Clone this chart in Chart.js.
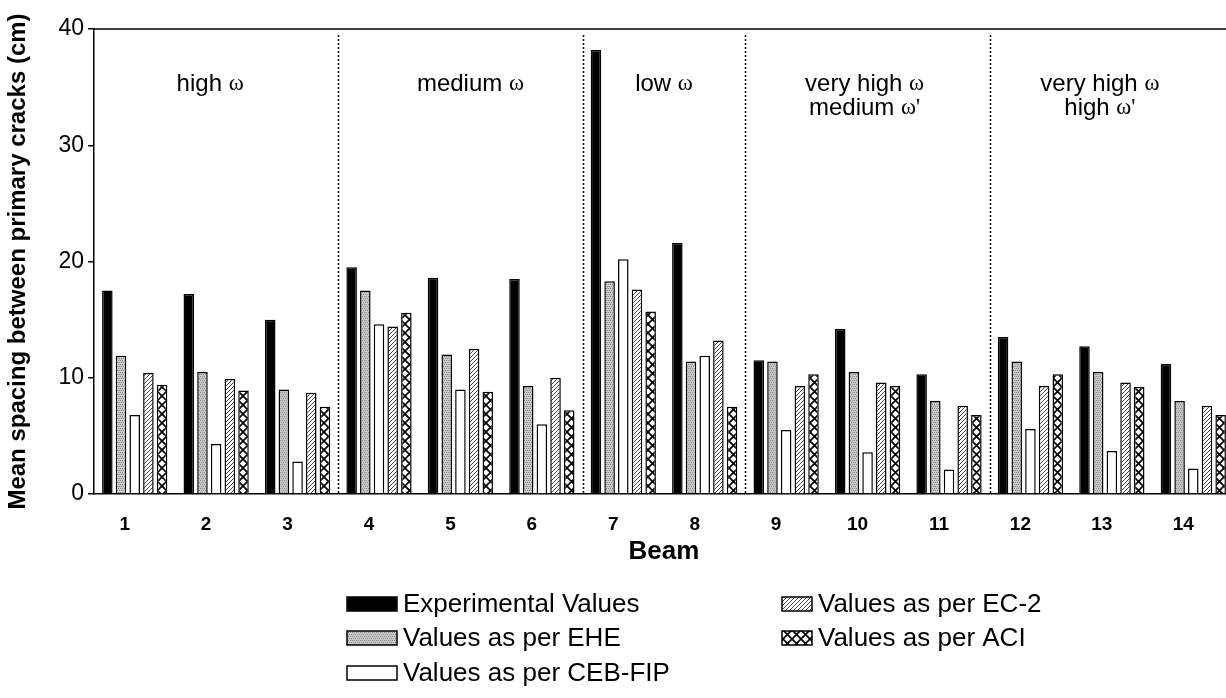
<!DOCTYPE html>
<html>
<head>
<meta charset="utf-8">
<script src="https://cdn.jsdelivr.net/npm/chart.js"></script>
<style>
  html, body { margin: 0; padding: 0; background: #fff; overflow: hidden; }
  #wrap { position: relative; width: 1234px; height: 698px; }
</style>
</head>
<body>
<div id="wrap"><canvas id="chart" width="1234" height="698"></canvas></div>
<script>
// data (cm)
var beams = ['1', '2', '3', '4', '5', '6', '7', '8', '9', '10', '11', '12', '13', '14'];
var experimental = [17.5, 17.2, 15.0, 19.5, 18.6, 18.5, 38.2, 21.6, 11.5, 14.2, 10.3, 13.5, 12.7, 11.2];
var ehe = [11.9, 10.5, 9.0, 17.5, 12.0, 9.3, 18.3, 11.4, 11.4, 10.5, 8.0, 11.4, 10.5, 8.0];
var cebFip = [6.8, 4.3, 2.8, 14.6, 9.0, 6.0, 20.2, 11.9, 5.5, 3.6, 2.1, 5.6, 3.7, 2.2];
var ec2 = [10.4, 9.9, 8.7, 14.4, 12.5, 10.0, 17.6, 13.2, 9.3, 9.6, 7.6, 9.3, 9.6, 7.6];
var aci = [9.4, 8.9, 7.5, 15.6, 8.8, 7.2, 15.7, 7.5, 10.3, 9.3, 6.8, 10.3, 9.2, 6.8];
var yTicks = [0, 10, 20, 30, 40];

// beam groups separated by the dotted lines
var groupStart = [0, 3, 6, 8, 11];
var groupEnd = [3, 6, 8, 11, 14];
var groupText = [
  ['high ω'],
  ['medium ω'],
  ['low ω'],
  ['very high ω', "medium ω'"],
  ['very high ω', "high ω'"]
];
var groupShift = [-6, 10, 0, -3, -12];

var SANS = "'Liberation Sans', Arial, sans-serif";
var SERIF = "'Liberation Serif', 'Times New Roman', serif";

function makePattern(kind) {
  var c = document.createElement('canvas');
  var g = c.getContext('2d');
  if (kind == 'gray') {
    c.width = 4; c.height = 4;
    g.fillStyle = '#c8c8c8';
    g.fillRect(0, 0, 4, 4);
    g.fillStyle = '#8a8a8a';
    g.fillRect(0, 0, 1, 1); g.fillRect(2, 0, 1, 1);
    g.fillRect(1, 2, 1, 1); g.fillRect(3, 2, 1, 1);
  } else if (kind == 'hatch') {
    c.width = 4; c.height = 4;
    g.fillStyle = '#fff';
    g.fillRect(0, 0, 4, 4);
    g.strokeStyle = '#444';
    g.lineWidth = 1;
    g.beginPath();
    g.moveTo(-1, 5); g.lineTo(5, -1);
    g.moveTo(-1, 1); g.lineTo(1, -1);
    g.moveTo(3, 5); g.lineTo(5, 3);
    g.stroke();
  } else {
    c.width = 9; c.height = 9;
    g.fillStyle = '#fff';
    g.fillRect(0, 0, 9, 9);
    g.strokeStyle = '#000';
    g.lineWidth = 1.7;
    g.beginPath();
    g.moveTo(0, 0); g.lineTo(9, 9);
    g.moveTo(9, 0); g.lineTo(0, 9);
    g.stroke();
  }
  return g.createPattern(c, 'repeat');
}

var grayPat = makePattern('gray');
var hatchPat = makePattern('hatch');
var crossPat = makePattern('cross');

// draws text where ω and ' come from a serif face
function drawMixed(ctx, str, cx, cy, size) {
  var parts = [];
  var total = 0;
  for (var i = 0; i < str.length; i++) {
    var ch = str[i];
    var serif = (ch == 'ω' || ch == "'");
    ctx.font = serif ? (size * 0.95) + 'px ' + SERIF : size + 'px ' + SANS;
    var w = ctx.measureText(ch).width;
    parts.push({ ch: ch, font: ctx.font, w: w });
    total += w;
  }
  var x = cx - total / 2;
  ctx.textAlign = 'left';
  ctx.textBaseline = 'middle';
  parts.forEach(function (p) {
    ctx.font = p.font;
    ctx.fillText(p.ch, x, cy);
    x += p.w;
  });
}

var decor = {
  id: 'decor',
  afterDraw: function (chart) {
    var ctx = chart.ctx;
    var area = chart.chartArea;
    var xs = chart.scales.x;
    ctx.save();

    // top frame line
    ctx.strokeStyle = '#000';
    ctx.lineWidth = 1.5;
    ctx.beginPath();
    ctx.moveTo(area.left, area.top);
    ctx.lineTo(area.right, area.top);
    ctx.stroke();

    // dotted separators
    ctx.setLineDash([2, 2]);
    ctx.lineWidth = 1.6;
    ctx.strokeStyle = '#111';
    for (var i = 1; i < groupStart.length; i++) {
      var px = Math.round(xs.getPixelForValue(groupStart[i] - 0.5)) + 0.5;
      ctx.beginPath();
      ctx.moveTo(px, area.top + 6);
      ctx.lineTo(px, area.bottom);
      ctx.stroke();
    }
    ctx.setLineDash([]);

    // group captions
    ctx.fillStyle = '#000';
    for (var j = 0; j < groupStart.length; j++) {
      var x0 = xs.getPixelForValue(groupStart[j] - 0.5);
      var x1 = xs.getPixelForValue(groupEnd[j] - 0.5);
      var cx = (x0 + x1) / 2 + groupShift[j];
      groupText[j].forEach(function (line, k) {
        drawMixed(ctx, line, cx, 84 + k * 24, 24);
      });
    }

    // x title
    ctx.font = 'bold 26px ' + SANS;
    ctx.textAlign = 'center';
    ctx.textBaseline = 'middle';
    ctx.fillText('Beam', 664, 552);

    // legend
    var items = chart.data.datasets;
    var spots = [
      { x: 347, y: 604, w: 50 },
      { x: 347, y: 638, w: 50 },
      { x: 347, y: 673, w: 50 },
      { x: 782, y: 604, w: 30 },
      { x: 782, y: 638, w: 30 }
    ];
    ctx.font = '26px ' + SANS;
    ctx.textAlign = 'left';
    items.forEach(function (ds, n) {
      var s = spots[n];
      ctx.fillStyle = ds.backgroundColor;
      ctx.fillRect(s.x, s.y - 7, s.w, 14);
      ctx.strokeStyle = '#000';
      ctx.lineWidth = 1.5;
      ctx.strokeRect(s.x, s.y - 7, s.w, 14);
      ctx.fillStyle = '#000';
      ctx.fillText(ds.label, s.x + s.w + 6, s.y + 1);
    });
    ctx.restore();
  }
};

var barStyle = { borderColor: '#000', borderWidth: 1.5 };

new Chart(document.getElementById('chart'), {
  type: 'bar',
  data: {
    labels: beams,
    datasets: [
      Object.assign({ label: 'Experimental Values', data: experimental, backgroundColor: '#000' }, barStyle),
      Object.assign({ label: 'Values as per EHE', data: ehe, backgroundColor: grayPat }, barStyle),
      Object.assign({ label: 'Values as per CEB-FIP', data: cebFip, backgroundColor: '#fff' }, barStyle),
      Object.assign({ label: 'Values as per EC-2', data: ec2, backgroundColor: hatchPat }, barStyle),
      Object.assign({ label: 'Values as per ACI', data: aci, backgroundColor: crossPat }, barStyle)
    ]
  },
  options: {
    responsive: false,
    animation: false,
    layout: { padding: { top: 29, left: 0, right: 0, bottom: 0 } },
    datasets: { bar: { categoryPercentage: 0.84, barPercentage: 0.77 } },
    plugins: { legend: { display: false }, tooltip: { enabled: false } },
    scales: {
      x: {
        grid: { display: false, drawTicks: false },
        border: { color: '#000', width: 1.5 },
        ticks: {
          color: '#000',
          font: { family: SANS, size: 19, weight: 'bold' },
          padding: 19,
          labelOffset: -10,
          maxRotation: 0
        },
        afterFit: function (s) { s.height = 204; }
      },
      y: {
        min: 0,
        max: 40,
        afterBuildTicks: function (s) { s.ticks = yTicks.map(function (v) { return { value: v }; }); },
        grid: { drawOnChartArea: false, tickLength: 6, color: '#000', lineWidth: 1.5 },
        border: { color: '#000', width: 1.5 },
        ticks: { color: '#000', font: { family: SANS, size: 23 }, padding: 4 },
        title: {
          display: true,
          text: 'Mean spacing between primary cracks (cm)',
          color: '#000',
          font: { family: SANS, size: 24, weight: 'bold' },
          padding: { top: 4, bottom: 0 }
        },
        afterFit: function (s) { s.width = 94; }
      }
    }
  },
  plugins: [decor]
});
</script>
</body>
</html>
